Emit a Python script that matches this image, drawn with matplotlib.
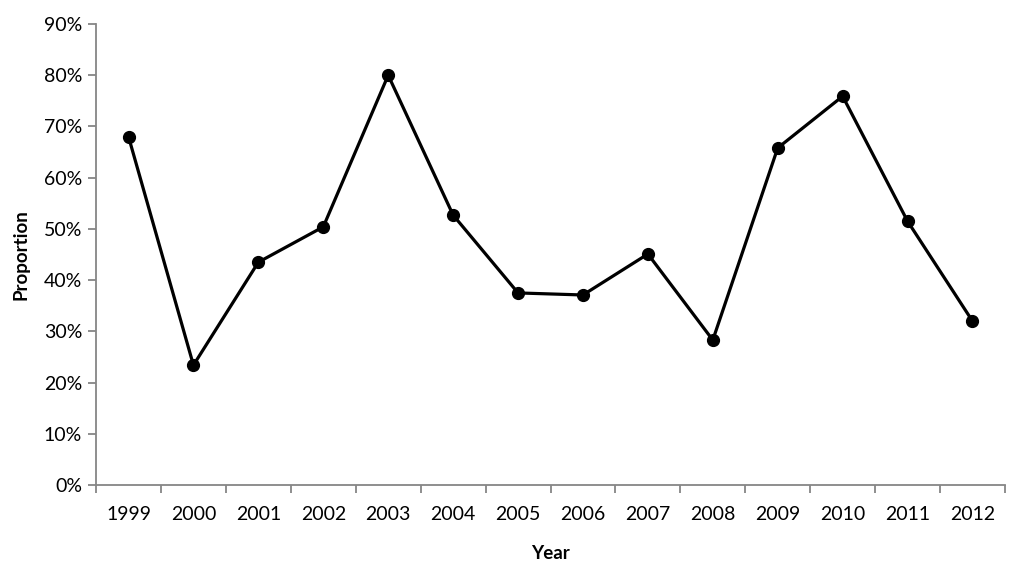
import numpy as np
import matplotlib.pyplot as plt
from matplotlib.ticker import PercentFormatter, FixedLocator

years = ["1999", "2000", "2001", "2002", "2003", "2004", "2005",
         "2006", "2007", "2008", "2009", "2010", "2011", "2012"]
proportion = [68.0, 23.4, 43.5, 50.4, 80.0, 52.7, 37.5,
              37.1, 45.1, 28.3, 65.8, 75.9, 51.5, 32.0]

plt.rcParams['font.family'] = ['Lato', 'DejaVu Sans']
axis_grey = "#868686"

fig = plt.figure(figsize=(10.24, 5.69), dpi=100)
ax = fig.add_axes([0.0938, 0.1476, 0.8876, 0.8102])

x = np.arange(len(years))
ax.plot(x, proportion, color="black", linewidth=2.3, marker="o", markersize=8.5)

ax.set_xlim(-0.5, len(years) - 0.5)
ax.set_ylim(0, 90)
ax.set_yticks(np.arange(0, 91, 10))
ax.yaxis.set_major_formatter(PercentFormatter(decimals=0))

# category labels centred, tick marks between categories
ax.set_xticks(x)
ax.set_xticklabels(years)
ax.xaxis.set_minor_locator(FixedLocator(np.arange(-0.5, len(years), 1)))
ax.tick_params(axis="x", which="major", length=0, pad=15)
ax.tick_params(axis="x", which="minor", length=6, color=axis_grey, width=1.3)
ax.tick_params(axis="y", length=6, color=axis_grey, width=1.3, pad=4)
ax.tick_params(labelsize=14)

for side in ["top", "right"]:
    ax.spines[side].set_visible(False)
for side in ["left", "bottom"]:
    ax.spines[side].set_color(axis_grey)
    ax.spines[side].set_linewidth(1.3)

ax.set_xlabel("Year", fontsize=13.5, fontweight="bold", labelpad=16)
ax.set_ylabel("Proportion", fontsize=13.5, fontweight="bold", labelpad=10)

fig.savefig("out.png", dpi=100)
